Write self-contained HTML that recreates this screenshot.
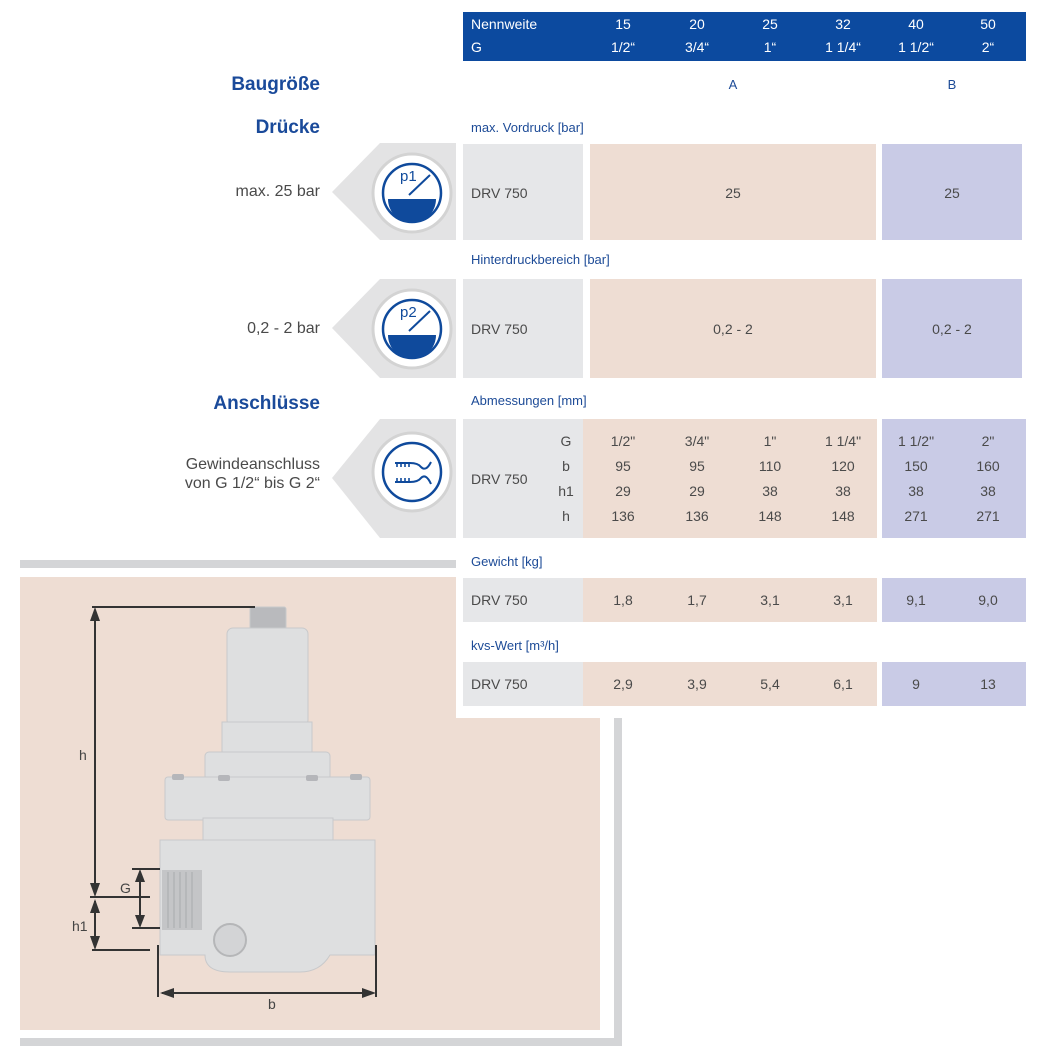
<!DOCTYPE html>
<html><head><meta charset="utf-8"><style>
body{margin:0;width:1038px;height:1060px;position:relative;background:#fff;font-family:"Liberation Sans",Arial,sans-serif;overflow:hidden}
.a{position:absolute}
.t{position:absolute;font-size:14px;color:#4a4a4a;white-space:nowrap}
.c{transform:translateX(-50%)}
.r{text-align:right}
.bl{color:#1d4b97;font-size:13px}
.h{color:#1a4a9a;font-weight:bold;font-size:19px;text-align:right;width:300px;left:20px}
.g{background:#e6e7e9}.p{background:#eeddd3}.v{background:#c9cbe6}
</style></head><body>
<div class="a" style="left:20px;top:560px;width:436px;height:8px;background:#d4d5d7"></div>
<div class="a p" style="left:20px;top:577px;width:580px;height:453px"></div>
<div class="a" style="left:614px;top:718px;width:8px;height:327px;background:#d4d5d7"></div>
<div class="a" style="left:20px;top:1038px;width:602px;height:8px;background:#d4d5d7"></div>
<div class="a" style="left:456px;top:548px;width:582px;height:170px;background:#fff"></div>

<div class="a" style="left:463px;top:12px;width:563px;height:49px;background:#0c4a9f"></div>
<div class="t" style="left:471px;top:16px;color:#fff">Nennweite</div>
<div class="t" style="left:471px;top:39px;color:#fff">G</div>
<div class="t c" style="left:623px;top:16px;color:#fff">15</div><div class="t c" style="left:623px;top:39px;color:#fff">1/2“</div>
<div class="t c" style="left:697px;top:16px;color:#fff">20</div><div class="t c" style="left:697px;top:39px;color:#fff">3/4“</div>
<div class="t c" style="left:770px;top:16px;color:#fff">25</div><div class="t c" style="left:770px;top:39px;color:#fff">1“</div>
<div class="t c" style="left:843px;top:16px;color:#fff">32</div><div class="t c" style="left:843px;top:39px;color:#fff">1 1/4“</div>
<div class="t c" style="left:916px;top:16px;color:#fff">40</div><div class="t c" style="left:916px;top:39px;color:#fff">1 1/2“</div>
<div class="t c" style="left:988px;top:16px;color:#fff">50</div><div class="t c" style="left:988px;top:39px;color:#fff">2“</div>

<div class="t h" style="top:74px">Baugröße</div>
<div class="t bl c" style="left:733px;top:77px">A</div>
<div class="t bl c" style="left:952px;top:77px">B</div>
<div class="t h" style="top:117px">Drücke</div>
<div class="t h" style="top:393px">Anschlüsse</div>

<div class="t bl" style="left:471px;top:120px">max. Vordruck [bar]</div>
<div class="t bl" style="left:471px;top:252px">Hinterdruckbereich [bar]</div>
<div class="t bl" style="left:471px;top:393px">Abmessungen [mm]</div>
<div class="t bl" style="left:471px;top:554px">Gewicht [kg]</div>
<div class="t bl" style="left:471px;top:638px">kvs-Wert [m³/h]</div>

<svg class="a" style="left:330px;top:140px" width="130" height="400" viewBox="330 140 130 400">
<polygon points="332,192 380,143 456,143 456,240 380,240" fill="#e3e3e4"/>
<polygon points="332,328 380,279 456,279 456,378 380,378" fill="#e3e3e4"/>
<polygon points="332,478 380,419 456,419 456,538 380,538" fill="#e3e3e4"/>
<g fill="#fff" stroke="#d3d3d3" stroke-width="3"><circle cx="412" cy="193" r="39"/><circle cx="412" cy="329" r="39"/><circle cx="412" cy="472" r="39"/></g>
<g fill="none" stroke="#0f4a9c" stroke-width="2.5"><circle cx="412" cy="193" r="29"/><circle cx="412" cy="329" r="29"/><circle cx="412" cy="472" r="29"/></g>
<path d="M388,199 H436 A24,24 0 0 1 388,199Z" fill="#0f4a9c"/>
<path d="M388,335 H436 A24,24 0 0 1 388,335Z" fill="#0f4a9c"/>
<line x1="409" y1="195" x2="430" y2="175" stroke="#0f4a9c" stroke-width="2"/>
<line x1="409" y1="331" x2="430" y2="311" stroke="#0f4a9c" stroke-width="2"/>
<text x="400" y="181" font-family="Liberation Sans" font-size="15" fill="#0f4a9c">p1</text>
<text x="400" y="317" font-family="Liberation Sans" font-size="15" fill="#0f4a9c">p2</text>
<g fill="none" stroke="#0f4a9c" stroke-width="2"><path d="M395,463 H410 Q418,463 421,467 Q426,472 431,462"/><path d="M395,482 H410 Q418,482 421,478 Q426,473 431,484"/></g>
<g stroke="#0f4a9c" stroke-width="1.6"><path d="M397,463v4M401,463v4M405,463v4M409,463v4M397,482v-4M401,482v-4M405,482v-4M409,482v-4"/></g>
</svg>
<div class="t r" style="left:100px;width:220px;top:183px;font-size:16px">max. 25 bar</div>
<div class="t r" style="left:100px;width:220px;top:320px;font-size:16px">0,2 - 2 bar</div>
<div class="t r" style="left:100px;width:220px;top:455px;font-size:16px;line-height:19px">Gewindeanschluss<br>von G 1/2“ bis G 2“</div>

<div class="a g" style="left:463px;top:144px;width:120px;height:96px"></div>
<div class="a p" style="left:590px;top:144px;width:286px;height:96px"></div>
<div class="a v" style="left:882px;top:144px;width:140px;height:96px"></div>
<div class="t" style="left:471px;top:185px">DRV 750</div>
<div class="t c" style="left:733px;top:185px">25</div>
<div class="t c" style="left:952px;top:185px">25</div>
<div class="a g" style="left:463px;top:279px;width:120px;height:99px"></div>
<div class="a p" style="left:590px;top:279px;width:286px;height:99px"></div>
<div class="a v" style="left:882px;top:279px;width:140px;height:99px"></div>
<div class="t" style="left:471px;top:321px">DRV 750</div>
<div class="t c" style="left:733px;top:321px">0,2 - 2</div>
<div class="t c" style="left:952px;top:321px">0,2 - 2</div>
<div class="a g" style="left:463px;top:419px;width:120px;height:119px"></div>
<div class="a p" style="left:583px;top:419px;width:294px;height:119px"></div>
<div class="a v" style="left:882px;top:419px;width:144px;height:119px"></div>
<div class="t" style="left:471px;top:471px">DRV 750</div>
<div class="t c" style="left:566px;top:433px">G</div><div class="t c" style="left:566px;top:458px">b</div><div class="t c" style="left:566px;top:483px">h1</div><div class="t c" style="left:566px;top:508px">h</div>
<div class="t c" style="left:623px;top:433px">1/2"</div><div class="t c" style="left:697px;top:433px">3/4"</div><div class="t c" style="left:770px;top:433px">1"</div><div class="t c" style="left:843px;top:433px">1 1/4"</div><div class="t c" style="left:916px;top:433px">1 1/2"</div><div class="t c" style="left:988px;top:433px">2"</div>
<div class="t c" style="left:623px;top:458px">95</div><div class="t c" style="left:697px;top:458px">95</div><div class="t c" style="left:770px;top:458px">110</div><div class="t c" style="left:843px;top:458px">120</div><div class="t c" style="left:916px;top:458px">150</div><div class="t c" style="left:988px;top:458px">160</div>
<div class="t c" style="left:623px;top:483px">29</div><div class="t c" style="left:697px;top:483px">29</div><div class="t c" style="left:770px;top:483px">38</div><div class="t c" style="left:843px;top:483px">38</div><div class="t c" style="left:916px;top:483px">38</div><div class="t c" style="left:988px;top:483px">38</div>
<div class="t c" style="left:623px;top:508px">136</div><div class="t c" style="left:697px;top:508px">136</div><div class="t c" style="left:770px;top:508px">148</div><div class="t c" style="left:843px;top:508px">148</div><div class="t c" style="left:916px;top:508px">271</div><div class="t c" style="left:988px;top:508px">271</div>
<div class="a g" style="left:463px;top:578px;width:120px;height:44px"></div>
<div class="a p" style="left:583px;top:578px;width:294px;height:44px"></div>
<div class="a v" style="left:882px;top:578px;width:144px;height:44px"></div>
<div class="t" style="left:471px;top:592px">DRV 750</div>
<div class="t c" style="left:623px;top:592px">1,8</div><div class="t c" style="left:697px;top:592px">1,7</div><div class="t c" style="left:770px;top:592px">3,1</div><div class="t c" style="left:843px;top:592px">3,1</div><div class="t c" style="left:916px;top:592px">9,1</div><div class="t c" style="left:988px;top:592px">9,0</div>
<div class="a g" style="left:463px;top:662px;width:120px;height:44px"></div>
<div class="a p" style="left:583px;top:662px;width:294px;height:44px"></div>
<div class="a v" style="left:882px;top:662px;width:144px;height:44px"></div>
<div class="t" style="left:471px;top:676px">DRV 750</div>
<div class="t c" style="left:623px;top:676px">2,9</div><div class="t c" style="left:697px;top:676px">3,9</div><div class="t c" style="left:770px;top:676px">5,4</div><div class="t c" style="left:843px;top:676px">6,1</div><div class="t c" style="left:916px;top:676px">9</div><div class="t c" style="left:988px;top:676px">13</div>

<svg class="a" style="left:0;top:540px" width="640" height="520" viewBox="0 540 640 520">
<g fill="#dedfe0" stroke="#c8c9cb" stroke-width="1">
<rect x="250" y="607" width="36" height="22" rx="2" fill="#b9babd"/>
<rect x="227" y="628" width="81" height="98" rx="6"/>
<rect x="222" y="722" width="90" height="30"/>
<rect x="205" y="752" width="125" height="28" rx="4"/>
<rect x="165" y="777" width="205" height="43" rx="3"/>
<rect x="203" y="818" width="130" height="50"/>
<path d="M160,840 H375 V955 H330 Q320,972 300,972 H230 Q205,972 205,955 H160Z"/>
</g>
<rect x="162" y="870" width="40" height="60" fill="#c4c5c7"/>
<g stroke="#a9aaac" stroke-width="1"><path d="M168,872v56M174,872v56M180,872v56M186,872v56M192,872v56"/></g>
<circle cx="230" cy="940" r="16" fill="#d3d4d6" stroke="#b5b6b8" stroke-width="2"/>
<g fill="#b5b6ba"><rect x="172" y="774" width="12" height="6" rx="2"/><rect x="218" y="775" width="12" height="6" rx="2"/><rect x="306" y="775" width="12" height="6" rx="2"/><rect x="350" y="774" width="12" height="6" rx="2"/></g>
<g stroke="#333" stroke-width="2" fill="none">
<path d="M92,607H255M95,610V893M90,897H150M95,901V947M92,950H150M132,869H160M132,928H160M140,873V924M158,945V997M376,945V997M162,993H372"/>
</g>
<g fill="#333">
<path d="M95,607l-5,14h10z"/><path d="M95,897l-5,-14h10z"/><path d="M95,899l-5,14h10z"/><path d="M95,950l-5,-14h10z"/>
<path d="M140,869l-5,13h10z"/><path d="M140,928l-5,-13h10z"/>
<path d="M160,993l14,-5v10z"/><path d="M376,993l-14,-5v10z"/>
</g>
<g font-family="Liberation Sans" font-size="14" fill="#444">
<text x="79" y="760">h</text><text x="120" y="893">G</text><text x="72" y="931">h1</text><text x="268" y="1009">b</text>
</g>
</svg>
</body></html>
